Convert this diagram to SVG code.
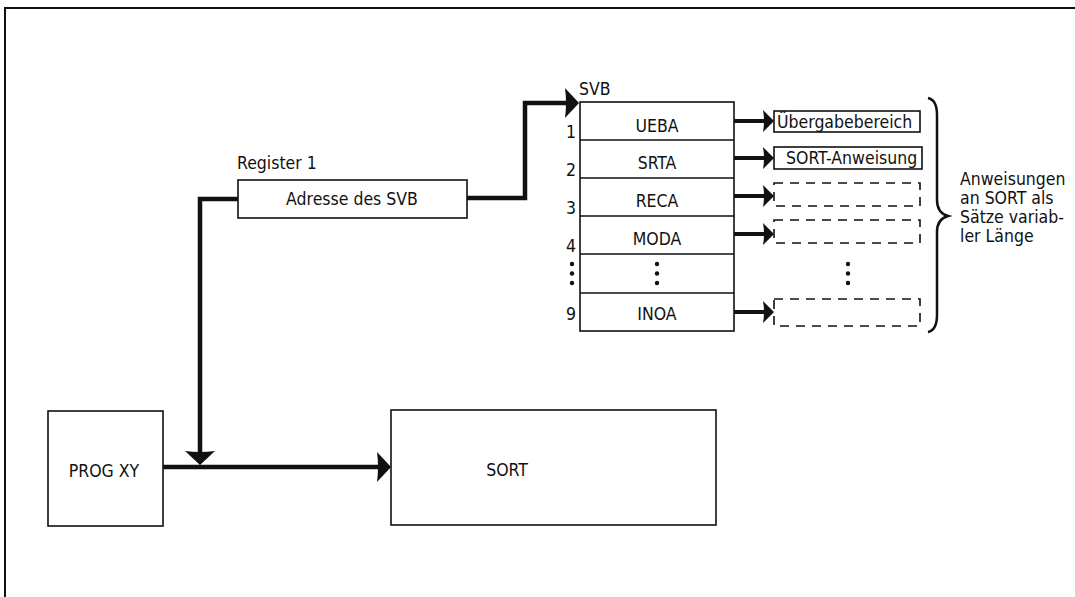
<svg xmlns="http://www.w3.org/2000/svg" width="1075" height="597" viewBox="0 0 1075 597">
<defs>
<style>
text{font-family:"DejaVu Sans Condensed","Liberation Sans",sans-serif;fill:#111}
.t{font-size:17.5px}
.m{text-anchor:middle}
.box{fill:#fff;stroke:#111;stroke-width:1.6}
.dash{fill:none;stroke:#111;stroke-width:1.6;stroke-dasharray:9 7}
.con{fill:none;stroke:#111;stroke-width:4.5;stroke-linejoin:miter}
.cs{fill:none;stroke:#111;stroke-width:4}
.dot{fill:#111}
</style>
<marker id="ah" viewBox="-1 -17 16 34" markerWidth="16" markerHeight="34" refX="4" refY="0" markerUnits="userSpaceOnUse" orient="auto">
<path d="M14,0 L0,-15 Q2,0 0,15 Z" fill="#111"/>
</marker>
<marker id="ahs" viewBox="-1 -13 14 26" markerWidth="14" markerHeight="26" refX="3" refY="0" markerUnits="userSpaceOnUse" orient="auto">
<path d="M11,0 L0,-11 Q2,0 0,11 Z" fill="#111"/>
</marker>
</defs>
<rect width="1075" height="597" fill="#fff"/>
<g id="frame">
<path d="M5,597 V8 H1075" fill="none" stroke="#111" stroke-width="2"/>
</g>
<g id="connectors">
<path class="con" d="M467,198 H525 V103 H569" marker-end="url(#ah)"/>
<path class="con" d="M238,199 H200 V455" marker-end="url(#ah)"/>
<path class="con" d="M163,467 H381" marker-end="url(#ah)"/>
<path class="cs" d="M734,121 H766" marker-end="url(#ahs)"/>
<path class="cs" d="M734,158 H766" marker-end="url(#ahs)"/>
<path class="cs" d="M734,196 H766" marker-end="url(#ahs)"/>
<path class="cs" d="M734,234 H766" marker-end="url(#ahs)"/>
<path class="cs" d="M734,312 H766" marker-end="url(#ahs)"/>
</g>
<g id="register">
<rect class="box" x="238" y="180" width="229" height="38"/>
<text class="t" x="237" y="169">Register 1</text>
<text class="t m" x="352" y="205">Adresse des SVB</text>
</g>
<g id="svb">
<text class="t" x="579" y="95">SVB</text>
<rect class="box" x="580" y="102" width="154" height="229"/>
<path d="M580,140 H734 M580,178 H734 M580,216 H734 M580,254 H734 M580,293 H734" stroke="#111" stroke-width="1.6"/>
<text class="t m" x="657" y="132">UEBA</text>
<text class="t m" x="657" y="169">SRTA</text>
<text class="t m" x="657" y="207">RECA</text>
<text class="t m" x="657" y="245">MODA</text>
<text class="t m" x="657" y="320">INOA</text>
<circle class="dot" cx="657" cy="264" r="2.2"/>
<circle class="dot" cx="657" cy="273.5" r="2.2"/>
<circle class="dot" cx="657" cy="283" r="2.2"/>
<text class="t m" x="571" y="138">1</text>
<text class="t m" x="571" y="176">2</text>
<text class="t m" x="571" y="214">3</text>
<text class="t m" x="571" y="252">4</text>
<text class="t m" x="571" y="320">9</text>
<circle class="dot" cx="572" cy="264" r="2.2"/>
<circle class="dot" cx="572" cy="273.5" r="2.2"/>
<circle class="dot" cx="572" cy="283" r="2.2"/>
</g>
<g id="uebergabebereich">
<rect class="box" x="774" y="111" width="146" height="21"/>
<text class="t" x="777" y="128">Übergabebereich</text>
</g>
<g id="sort-anweisung">
<rect class="box" x="774" y="147" width="148" height="22"/>
<text class="t" x="786" y="164">SORT-Anweisung</text>
</g>
<g id="record3">
<rect class="dash" x="774" y="183" width="146" height="23"/>
</g>
<g id="record4">
<rect class="dash" x="774" y="220" width="146" height="23"/>
</g>
<g id="record-dots">
<circle class="dot" cx="848" cy="264" r="2.2"/>
<circle class="dot" cx="848" cy="273.5" r="2.2"/>
<circle class="dot" cx="848" cy="283" r="2.2"/>
</g>
<g id="record9">
<rect class="dash" x="774" y="299" width="146" height="27"/>
</g>
<g id="brace">
<path d="M928,98 Q937,100 937,115 V200 Q937,213 948,216 Q937,219 937,232 V315 Q937,330 928,332" fill="none" stroke="#111" stroke-width="2.5"/>
<text class="t" x="960" y="185">Anweisungen</text>
<text class="t" x="960" y="204">an SORT als</text>
<text class="t" x="960" y="223">Sätze variab-</text>
<text class="t" x="960" y="242">ler Länge</text>
</g>
<g id="prog-xy">
<rect class="box" x="48" y="411" width="115" height="115"/>
<text class="t m" x="104" y="477">PROG XY</text>
</g>
<g id="sort">
<rect class="box" x="391" y="410" width="325" height="115"/>
<text class="t m" x="507" y="476">SORT</text>
</g>
</svg>
